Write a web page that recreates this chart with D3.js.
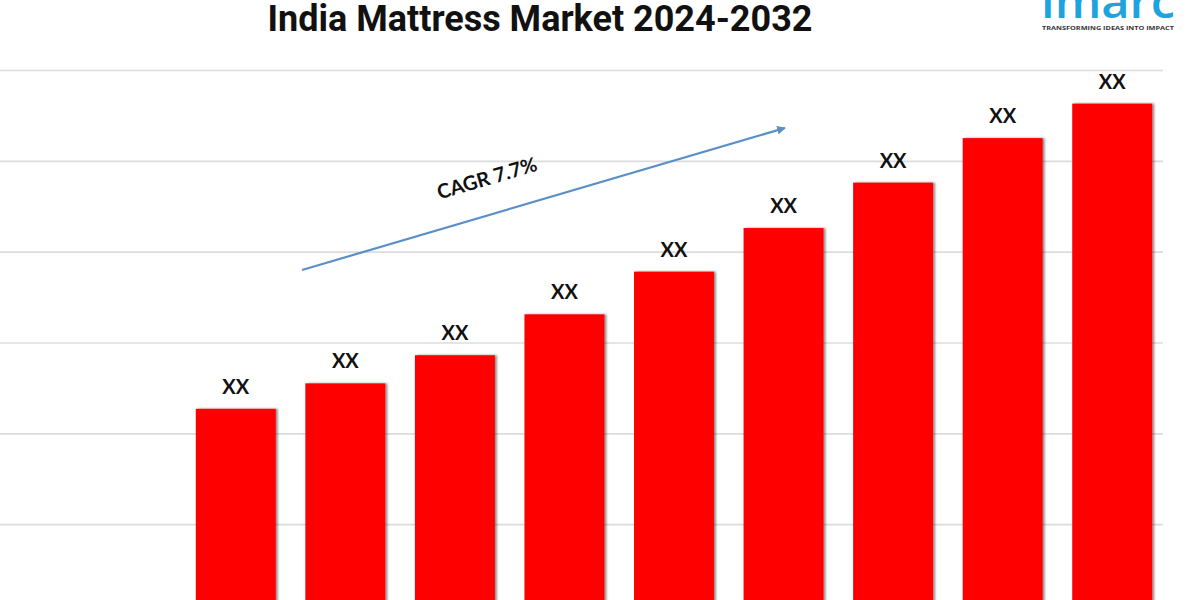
<!DOCTYPE html>
<html>
<head>
<meta charset="utf-8">
<script src="https://cdn.jsdelivr.net/npm/d3@7"></script>
<style>
  html, body { margin: 0; padding: 0; background: #ffffff; }
  svg { display: block; }
</style>
</head>
<body>
<svg id="chart" width="1200" height="600"></svg>
<script>
// ---- data ----
const years = ["2024", "2025", "2026", "2027", "2028", "2029", "2030", "2031", "2032"];
const values = [2.27, 2.55, 2.86, 3.31, 3.78, 4.26, 4.76, 5.25, 5.63];
const valueLabels = ["XX", "XX", "XX", "XX", "XX", "XX", "XX", "XX", "XX"];
const gridTicks = [0, 1, 2, 3, 4, 5, 6];
const titleText = "India Mattress Market 2024-2032";
const cagrText = "CAGR 7.7%";

// ---- layout ----
const svg = d3.select("#chart");

const x = d3.scaleBand()
  .domain(years)
  .range([181, 1167])
  .paddingInner(0.27)
  .paddingOuter(0.135);

const y = d3.scaleLinear()
  .domain([0, 6])
  .range([615, 70]);

const defs = svg.append("defs");
const shadow = defs.append("filter").attr("id", "barShadow")
  .attr("x", "-10%").attr("y", "-10%").attr("width", "130%").attr("height", "130%");
shadow.append("feDropShadow")
  .attr("dx", 2).attr("dy", 0).attr("stdDeviation", 1.2)
  .attr("flood-color", "#000").attr("flood-opacity", 0.45);

const arrowMarker = defs.append("marker").attr("id", "arrowHead")
  .attr("viewBox", "0 0 10 10").attr("refX", 9).attr("refY", 5)
  .attr("markerWidth", 4).attr("markerHeight", 4).attr("orient", "auto");
arrowMarker.append("path").attr("d", "M0,0 L10,5 L0,10 Z").attr("fill", "#5b8fc8");

// gridlines
const grid = svg.append("g")
  .attr("class", "grid")
  .call(d3.axisLeft(y).tickValues(gridTicks).tickSize(-1163).tickFormat(""));
grid.select(".domain").remove();
grid.selectAll(".tick line").attr("stroke", "#dcdcdc").attr("stroke-width", 1.6);

// bars
svg.append("g").selectAll("rect")
  .data(years)
  .join("rect")
  .attr("x", d => x(d))
  .attr("width", x.bandwidth())
  .attr("y", (d, i) => y(values[i]))
  .attr("height", (d, i) => y(0) - y(values[i]))
  .attr("fill", "#ff0000")
  .attr("filter", "url(#barShadow)");

// value labels
svg.append("g").selectAll("text")
  .data(years)
  .join("text")
  .attr("x", d => x(d) + x.bandwidth() / 2)
  .attr("y", (d, i) => y(values[i]) - 15)
  .attr("text-anchor", "middle")
  .attr("font-family", "Lato, 'Open Sans', sans-serif")
  .attr("font-weight", "bold")
  .attr("font-size", 20)
  .attr("fill", "#111")
  .text((d, i) => valueLabels[i]);

// CAGR arrow
const a0 = [302, 270], a1 = [785, 128];
svg.append("line")
  .attr("x1", a0[0]).attr("y1", a0[1])
  .attr("x2", a1[0]).attr("y2", a1[1])
  .attr("stroke", "#5b8fc8").attr("stroke-width", 2.2)
  .attr("marker-end", "url(#arrowHead)");

const angle = Math.atan2(a1[1] - a0[1], a1[0] - a0[0]) * 180 / Math.PI;
svg.append("text")
  .attr("transform", `translate(489,185) rotate(${angle})`)
  .attr("text-anchor", "middle")
  .attr("font-family", "Lato, 'Open Sans', sans-serif")
  .attr("font-weight", "bold")
  .attr("font-size", 20)
  .attr("fill", "#111")
  .text(cagrText);

// title
svg.append("text")
  .attr("x", 540)
  .attr("y", 31)
  .attr("text-anchor", "middle")
  .attr("font-family", "Roboto, 'Noto Sans', sans-serif")
  .attr("font-weight", "bold")
  .attr("font-size", 36)
  .attr("fill", "#111")
  .text(titleText);

// logo
svg.append("text")
  .attr("x", 1108)
  .attr("y", 18)
  .attr("text-anchor", "middle")
  .attr("font-family", "'Open Sans', Roboto, sans-serif")
  .attr("font-weight", 600)
  .attr("font-size", 46)
  .attr("textLength", 134)
  .attr("lengthAdjust", "spacingAndGlyphs")
  .attr("fill", "#1fa3e0")
  .text("imarc");
svg.append("text")
  .attr("x", 1108)
  .attr("y", 30)
  .attr("text-anchor", "middle")
  .attr("font-family", "'Open Sans', Roboto, sans-serif")
  .attr("font-weight", "bold")
  .attr("font-size", 6)
  .attr("textLength", 132)
  .attr("lengthAdjust", "spacingAndGlyphs")
  .attr("fill", "#333")
  .text("TRANSFORMING IDEAS INTO IMPACT");
</script>
</body>
</html>
